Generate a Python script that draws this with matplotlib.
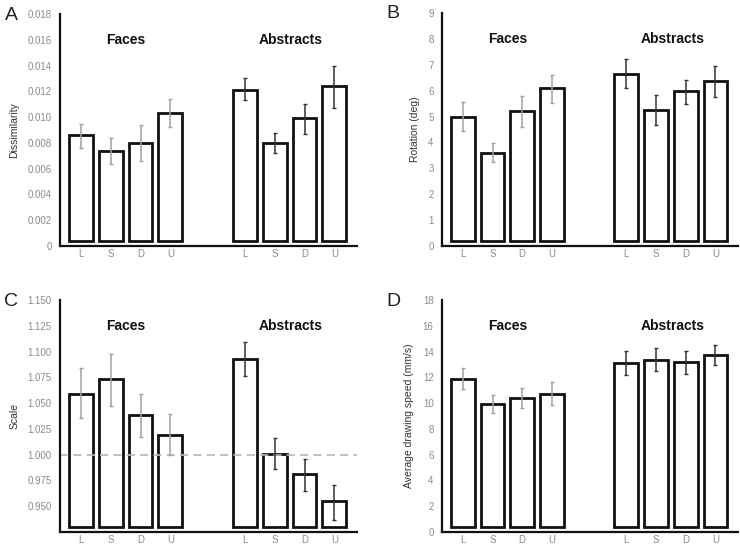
import numpy as np
import matplotlib
matplotlib.use("Agg")
import matplotlib.pyplot as plt

plt.rcParams['font.family'] = ['Liberation Sans', 'DejaVu Sans']

conditions = ['L', 'S', 'D', 'U']
groups = ['Faces', 'Abstracts']

# means and error bar ends (upper, lower) per panel: faces then abstracts
dis_mean = [0.0086, 0.0074, 0.0080, 0.0103, 0.0121, 0.0080, 0.0099, 0.0124]
dis_hi = [0.0095, 0.0084, 0.0094, 0.0114, 0.0130, 0.0088, 0.0110, 0.0140]
dis_lo = [0.0076, 0.0064, 0.0066, 0.0092, 0.0113, 0.0072, 0.0087, 0.0107]

rot_mean = [5.00, 3.61, 5.21, 6.09, 6.65, 5.27, 5.97, 6.37]
rot_hi = [5.56, 3.97, 5.81, 6.61, 7.22, 5.83, 6.42, 6.95]
rot_lo = [4.45, 3.24, 4.59, 5.54, 6.09, 4.67, 5.49, 5.76]

scale_mean = [1.059, 1.073, 1.038, 1.019, 1.093, 1.001, 0.981, 0.955]
scale_hi = [1.084, 1.098, 1.059, 1.039, 1.109, 1.016, 0.996, 0.971]
scale_lo = [1.036, 1.047, 1.017, 1.000, 1.076, 0.986, 0.965, 0.937]

speed_mean = [11.90, 9.95, 10.39, 10.72, 13.11, 13.37, 13.17, 13.73]
speed_hi = [12.75, 10.65, 11.19, 11.65, 14.07, 14.27, 14.01, 14.53]
speed_lo = [11.06, 9.20, 9.62, 9.82, 12.19, 12.47, 12.29, 12.96]

panels = [
    ('A', 'Dissimilarity', dis_mean, dis_hi, dis_lo, (0, 0.018), np.arange(0, 0.0181, 0.002)),
    ('B', 'Rotation (deg)', rot_mean, rot_hi, rot_lo, (0, 9), np.arange(0, 9.1, 1)),
    ('C', 'Scale', scale_mean, scale_hi, scale_lo, (0.925, 1.15), np.arange(0.95, 1.151, 0.025)),
    ('D', 'Average drawing speed (mm/s)', speed_mean, speed_hi, speed_lo, (0, 18), np.arange(0, 18.1, 2)),
]

def fmt(letter, v):
    if letter == 'A':
        return '0' if v == 0 else '%.3f' % v
    if letter == 'C':
        return '%.3f' % v
    return '%d' % round(v)

xpos = np.array([0, 1, 2, 3, 5.5, 6.5, 7.5, 8.5])

fig = plt.figure(figsize=(7.4, 5.44), dpi=100)
W, H = 740, 544
boxes = [(60, 14, 357, 246), (442, 13, 738, 246), (60, 300, 357, 532), (442, 300, 738, 532)]

for (letter, ylabel, mean, hi, lo, ylim, ticks), (x0, y0, x1, y1) in zip(panels, boxes):
    ax = fig.add_axes([x0 / W, 1 - y1 / H, (x1 - x0) / W, (y1 - y0) / H])
    base = ylim[0] + 0.022 * (ylim[1] - ylim[0])
    mean = np.array(mean)
    ax.bar(xpos, mean - base, bottom=base, width=0.8, facecolor='white',
           edgecolor='#111111', linewidth=2, zorder=2)
    for i in range(8):
        c = '#a0a0a0' if i < 4 else '#333333'
        ax.errorbar(xpos[i], mean[i], yerr=[[mean[i] - lo[i]], [hi[i] - mean[i]]],
                    fmt='none', ecolor=c, elinewidth=1.1, capsize=1.5, capthick=1, zorder=3)
    if letter == 'C':
        ax.axhline(1.0, color='#b8b8b8', linestyle=(0, (5, 3)), linewidth=1.2, zorder=2.5)
    ax.set_xlim(-0.7, 9.26)
    ax.set_ylim(*ylim)
    ax.set_yticks(ticks)
    ax.set_yticklabels([fmt(letter, t) for t in ticks])
    ax.set_xticks(xpos)
    ax.set_xticklabels(conditions * 2)
    ax.tick_params(axis='y', length=0, labelsize=7, labelcolor='#8a8a8a', pad=6)
    ax.tick_params(axis='x', length=0, labelsize=7, labelcolor='#8a8a8a', pad=2)
    for s in ['top', 'right']:
        ax.spines[s].set_visible(False)
    for s in ['left', 'bottom']:
        ax.spines[s].set_linewidth(1.6)
        ax.spines[s].set_color('#111111')
    ax.set_ylabel(ylabel, fontsize=7.5, color='#333333', labelpad=6)
    ax.text(1.5, ylim[0] + 0.89 * (ylim[1] - ylim[0]), groups[0], ha='center', va='center',
            fontsize=10, fontweight='bold', color='#111111')
    ax.text(7.05, ylim[0] + 0.89 * (ylim[1] - ylim[0]), groups[1], ha='center', va='center',
            fontsize=10, fontweight='bold', color='#111111')
    fig.text((x0 - 49) / W, 1 - (y0 + 1) / H, letter, fontsize=14, ha='center', va='center',
             color='#222222')

fig.savefig('out.png', dpi=100)
